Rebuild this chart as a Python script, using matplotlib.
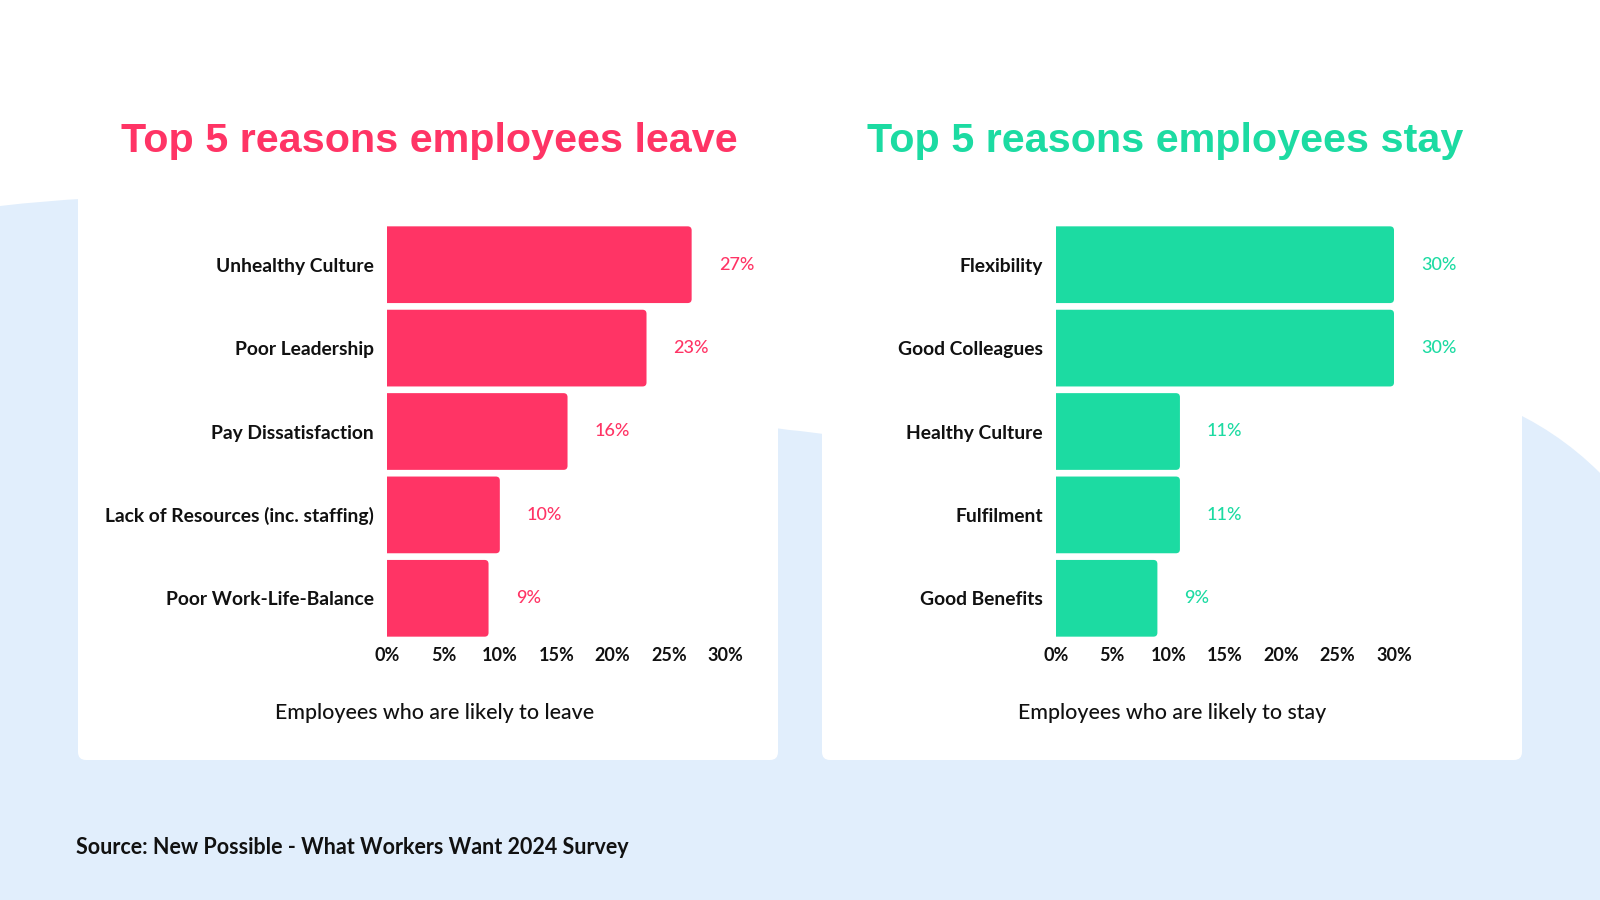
import matplotlib
matplotlib.use("Agg")
import matplotlib.pyplot as plt
from matplotlib.patches import FancyBboxPatch, PathPatch, Circle, Rectangle
from matplotlib.path import Path

# data
leave_reasons = ["Unhealthy Culture", "Poor Leadership", "Pay Dissatisfaction",
                 "Lack of Resources (inc. staffing)", "Poor Work-Life-Balance"]
leave_values = [27, 23, 16, 10, 9]
stay_reasons = ["Flexibility", "Good Colleagues", "Healthy Culture", "Fulfilment", "Good Benefits"]
stay_values = [30, 30, 11, 11, 9]
x_ticks = [0, 5, 10, 15, 20, 25, 30]
x_tick_labels = [f"{t}%" for t in x_ticks]

PINK = "#FF3465"
GREEN = "#1CDBA2"
BLUE_BG = "#E1EEFC"
TEXT = "#111111"
TITLE_FONT = ["Liberation Sans", "DejaVu Sans"]
BODY_FONT = ["Lato", "DejaVu Sans"]

W, H = 1600, 900
fig = plt.figure(figsize=(16, 9), dpi=100)
fig.patch.set_facecolor("white")

# background layer in pixel coords
bg = fig.add_axes([0, 0, 1, 1], zorder=0)
bg.set_xlim(0, W)
bg.set_ylim(H, 0)
bg.axis("off")

# soft blue shapes behind the cards
verts = [(0, H), (0, 206),
         (60, 199), (120, 196), (180, 196),
         (420, 196), (560, 410), (800, 431),
         (950, 450), (950, H), (0, H)]
codes = [Path.MOVETO, Path.LINETO,
         Path.CURVE4, Path.CURVE4, Path.CURVE4,
         Path.CURVE4, Path.CURVE4, Path.CURVE4,
         Path.LINETO, Path.LINETO, Path.CLOSEPOLY]
bg.add_patch(PathPatch(Path(verts, codes), facecolor=BLUE_BG, edgecolor="none"))
bg.add_patch(Circle((1378, 695), 314, facecolor=BLUE_BG, edgecolor="none"))
bg.add_patch(Rectangle((0, 700), W, 200, facecolor=BLUE_BG, edgecolor="none"))

for x0, x1 in [(78, 778), (822, 1522)]:
    bg.add_patch(FancyBboxPatch((x0, 150), x1 - x0, 760 - 150,
                                boxstyle="round,pad=0,rounding_size=8",
                                facecolor="white", edgecolor="none"))

bg.text(429, 141, "Top 5 reasons employees leave", color=PINK, fontsize=29.7,
        fontweight="bold", ha="center", va="center", family=TITLE_FONT)
bg.text(1165, 141, "Top 5 reasons employees stay", color=GREEN, fontsize=29.7,
        fontweight="bold", ha="center", va="center", family=TITLE_FONT)
bg.text(435, 713, "Employees who are likely to leave", color=TEXT, fontsize=15.4,
        ha="center", va="center", family=BODY_FONT, fontweight="medium")
bg.text(1172, 713, "Employees who are likely to stay", color=TEXT, fontsize=15.4,
        ha="center", va="center", family=BODY_FONT, fontweight="medium")
bg.text(76, 848, "Source: New Possible - What Workers Want 2024 Survey", color=TEXT,
        fontsize=15.5, fontweight="bold", ha="left", va="center", family=BODY_FONT)


def panel(left_px, right_px, reasons, values, color):
    top_px, bottom_px = 223, 640
    ax = fig.add_axes([left_px / W, 1 - bottom_px / H,
                       (right_px - left_px) / W, (bottom_px - top_px) / H], zorder=2)
    ax.patch.set_alpha(0)
    y = range(len(reasons))
    bars = ax.barh(y, values, height=0.92, color=color)
    # rounded right-hand corners; left corners pushed past the axis and clipped
    px_x = (right_px - left_px) / 30
    px_y = (bottom_px - top_px) / len(reasons)
    r = 4 / px_x
    for b in bars:
        ax.add_patch(FancyBboxPatch((b.get_x() - r, b.get_y()), b.get_width() + r, b.get_height(),
                                    boxstyle=f"round,pad=0,rounding_size={r}",
                                    mutation_aspect=px_x / px_y,
                                    facecolor=color, edgecolor="none"))
        b.set_visible(False)
    for yi, v in zip(y, values):
        ax.text(v + 2.4, yi, f"{v}%", color=color, fontsize=13, ha="left",
                va="center", family=BODY_FONT, fontweight="medium")
    ax.set_xlim(0, 30)
    ax.set_ylim(len(reasons) - 0.5, -0.5)
    ax.set_yticks(list(y))
    ax.set_yticklabels(reasons, fontsize=13.9, fontweight="bold", color=TEXT, family=BODY_FONT)
    ax.set_xticks(x_ticks)
    ax.set_xticklabels(x_tick_labels, fontsize=13, fontweight="bold", color=TEXT, family=BODY_FONT)
    ax.tick_params(axis="y", length=0, pad=9.5)
    ax.tick_params(axis="x", length=0, pad=5)
    for s in ax.spines.values():
        s.set_visible(False)
    return ax


panel(387, 725.5, leave_reasons, leave_values, PINK)
panel(1056, 1394, stay_reasons, stay_values, GREEN)

fig.savefig("out.png", dpi=100, facecolor=fig.get_facecolor())
